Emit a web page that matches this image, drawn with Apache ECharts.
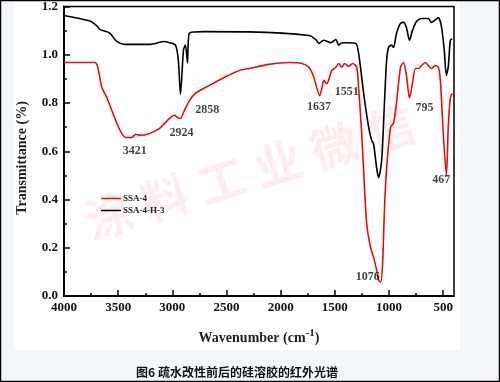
<!DOCTYPE html>
<html><head><meta charset="utf-8">
<script src="https://cdn.jsdelivr.net/npm/echarts@6/dist/echarts.min.js"></script>
<style>html,body{margin:0;padding:0;background:#f3f7fc}#c{width:500px;height:382px}</style>
</head><body><div id="c"></div>
<script>
const seriesNames = ['SSA-4', 'SSA-4-H-3'];
const redWn = [4000,3715,3688,3651,3605,3559,3513,3467,3430,3375,3338,3301,3228,3118,3026,2980,2952,2925,2888,2842,2787,2658,2520,2382,2291,2107,1923,1804,1739,1693,1640,1620,1601,1574,1528,1491,1464,1436,1409,1372,1335,1298,1280,1252,1225,1206,1170,1142,1114,1096,1076,1059,1041,1022,985,958,931,894,866,839,811,784,756,729,701,664,637,609,572,545,526,499,470,453,434,416];
const redVal = [0.968,0.968,0.948,0.865,0.823,0.77,0.716,0.674,0.657,0.657,0.67,0.666,0.67,0.695,0.736,0.749,0.74,0.736,0.77,0.81,0.84,0.873,0.906,0.935,0.943,0.96,0.968,0.964,0.948,0.906,0.83,0.86,0.894,0.88,0.935,0.948,0.964,0.948,0.964,0.952,0.964,0.948,0.86,0.674,0.44,0.30,0.20,0.16,0.107,0.066,0.058,0.137,0.37,0.53,0.70,0.716,0.80,0.948,0.968,0.914,0.82,0.88,0.943,0.943,0.955,0.968,0.955,0.943,0.955,0.948,0.894,0.674,0.50,0.70,0.82,0.84];
const blackWn = [4000,3761,3697,3669,3577,3513,3439,3210,3072,3026,2971,2945,2925,2897,2879,2860,2842,2700,2291,1739,1675,1647,1601,1537,1491,1464,1436,1390,1307,1280,1234,1188,1160,1142,1114,1096,1068,1041,1022,1004,977,958,931,894,866,839,811,784,747,701,637,609,572,545,517,490,471,453,434,416];
const blackVal = [1.163,1.14,1.12,1.105,1.09,1.055,1.043,1.043,1.055,1.05,1.04,0.98,0.836,1.02,1.04,0.967,1.09,1.096,1.095,1.08,1.063,1.047,1.06,1.05,1.063,1.04,1.05,1.05,1.047,1.005,0.84,0.70,0.645,0.63,0.53,0.49,0.56,0.81,0.976,1.03,1.04,1.03,1.088,1.13,1.134,1.113,1.06,1.1,1.138,1.15,1.15,1.134,1.145,1.154,1.12,1.02,0.914,0.95,1.06,1.067];
const xMajorTicks = [500,1000,1500,2000,2500,3000,3500,4000];
const xMinorTicks = [750,1250,1750,2250,2750,3250,3750];
const annText = ['3421','2924','2858','1637','1551','795','467','1076'];
const annWn = [3347,2916,2677,1647,1390,673,517,1197];
const annVal = [0.600,0.674,0.770,0.782,0.848,0.778,0.480,0.079];

const serif = '"Liberation Serif","Times New Roman",serif';
const redData = redWn.map((w,i)=>[w, redVal[i]]);
const blackData = blackWn.map((w,i)=>[w, blackVal[i]]);
const annData = annWn.map((w,i)=>({value:[w, annVal[i]], name: annText[i]}));

const chart = echarts.init(document.getElementById('c'), null, {renderer:'canvas'});
const xBase = {type:'value', min:400, max:4000, inverse:true, gridIndex:0, splitLine:{show:false}};
chart.setOption({
  backgroundColor:'#f3f7fc',
  animation:false,
  grid:{left:64, right:46, top:5, bottom:86, show:true, borderColor:'#000', borderWidth:1.5, backgroundColor:'transparent'},
  xAxis:[
    Object.assign({}, xBase, {
      axisLine:{lineStyle:{color:'#000', width:2}},
      axisTick:{inside:true, length:6, lineStyle:{color:'#000', width:1.5}, customValues:xMajorTicks},
      axisLabel:{customValues:xMajorTicks, color:'#111', fontFamily:serif, fontWeight:'bold', fontSize:13, margin:5, formatter:v=>String(v)}
    }),
    Object.assign({}, xBase, {
      position:'bottom',
      axisLine:{show:false},
      axisTick:{show:true, inside:true, length:3, lineStyle:{color:'#000', width:1.5}, customValues:xMinorTicks},
      axisLabel:{show:false}
    })
  ],
  yAxis:{type:'value', min:0, max:1.2, interval:0.2,
    splitLine:{show:false},
    axisLine:{show:true, lineStyle:{color:'#000', width:2}},
    axisTick:{show:true, inside:true, length:6, lineStyle:{color:'#000', width:1.5}},
    minorTick:{show:true, splitNumber:2, length:3, lineStyle:{color:'#000', width:1.5}},
    axisLabel:{color:'#111', fontFamily:serif, fontWeight:'bold', fontSize:13, margin:6, formatter:v=>v.toFixed(1)}
  },
  legend:{orient:'vertical', left:96, top:189, itemGap:3, itemWidth:20, itemHeight:1.5, icon:'rect',
    textStyle:{fontFamily:serif, fontWeight:'bold', fontSize:9, color:'#222', padding:[0,0,0,-3]},
    data:seriesNames},
  series:[
    {name:seriesNames[0], type:'line', data:redData, showSymbol:false, smooth:0.25, lineStyle:{color:'#e01010', width:1.6}, itemStyle:{color:'#e01010'}, z:3},
    {name:seriesNames[1], type:'line', data:blackData, showSymbol:false, smooth:0.25, lineStyle:{color:'#000', width:1.6}, itemStyle:{color:'#000'}, z:4},
    {type:'scatter', data:annData, symbolSize:0, silent:true,
      label:{show:true, position:'inside', formatter:p=>p.name, fontFamily:serif, fontWeight:'bold', fontSize:12, color:'#111'}, z:5}
  ],
  graphic:[
    {type:'rect', z:-10, shape:{x:14, y:0, width:446, height:350}, style:{fill:'#fff'}},
    {type:'text', z:1, x:250, y:172, rotation:0.3, style:{text:'涂 料 工 业 微 信', font:'bold 48px "Noto Sans CJK SC"', fill:'rgba(235,80,100,0.10)', textAlign:'center', textVerticalAlign:'middle'}},
    {type:'text', x:22, y:158, rotation:Math.PI/2, style:{text:'Transmittance (%)', font:'bold 14px '+serif, fill:'#222', textAlign:'center', textVerticalAlign:'middle'}},
    {type:'text', x:259, y:338, style:{text:'{a|Wavenumber (cm}{s|-1}{a|)}', rich:{a:{font:'bold 14px '+serif, fill:'#222'}, s:{font:'bold 11px '+serif, fill:'#222', verticalAlign:'top', padding:[0,0,10,0]}}, textAlign:'center', textVerticalAlign:'middle'}},
    {type:'text', x:237, y:372, style:{text:'图6 疏水改性前后的硅溶胶的红外光谱', font:'bold 12px "Noto Sans CJK SC"', fill:'#111', textAlign:'center', textVerticalAlign:'middle'}},
    {type:'rect', z:100, shape:{x:0.5, y:0.5, width:499, height:381}, style:{fill:'none', stroke:'#000', lineWidth:1.5}}
  ]
});
</script></body></html>
